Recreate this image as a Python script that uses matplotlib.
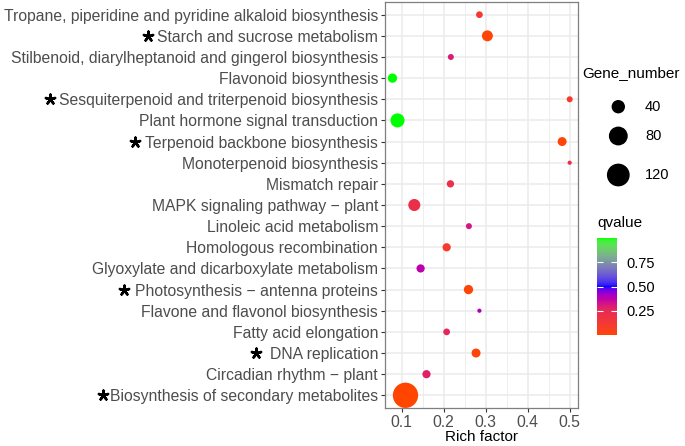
import numpy as np
import matplotlib.pyplot as plt
from matplotlib.colors import ListedColormap, Normalize, to_rgb
from matplotlib.transforms import blended_transform_factory
from matplotlib.cm import ScalarMappable

plt.rcParams['font.family'] = ['Liberation Sans', 'DejaVu Sans']

# KEGG pathways, listed top to bottom as in the chart
pathways = [
    "Tropane, piperidine and pyridine alkaloid biosynthesis",
    "Starch and sucrose metabolism",
    "Stilbenoid, diarylheptanoid and gingerol biosynthesis",
    "Flavonoid biosynthesis",
    "Sesquiterpenoid and triterpenoid biosynthesis",
    "Plant hormone signal transduction",
    "Terpenoid backbone biosynthesis",
    "Monoterpenoid biosynthesis",
    "Mismatch repair",
    "MAPK signaling pathway \u2212 plant",
    "Linoleic acid metabolism",
    "Homologous recombination",
    "Glyoxylate and dicarboxylate metabolism",
    "Photosynthesis \u2212 antenna proteins",
    "Flavone and flavonol biosynthesis",
    "Fatty acid elongation",
    "DNA replication",
    "Circadian rhythm \u2212 plant",
    "Biosynthesis of secondary metabolites",
]
rich_factor = [0.285, 0.304, 0.217, 0.078, 0.500, 0.090, 0.482, 0.500, 0.216, 0.130,
               0.260, 0.207, 0.145, 0.259, 0.285, 0.207, 0.277, 0.159, 0.109]
gene_number = [16, 28, 15, 22, 15, 44, 21, 14, 17, 33,
               15, 19, 19, 22, 14, 16, 21, 19, 151]
qvalue = [0.12, 0.01, 0.30, 1.00, 0.10, 1.00, 0.01, 0.22, 0.20, 0.21,
          0.32, 0.10, 0.38, 0.01, 0.40, 0.26, 0.01, 0.28, 0.00]

# pathways marked with a star, and where the star sits (figure fraction)
starred = ["Starch and sucrose metabolism",
           "Sesquiterpenoid and triterpenoid biosynthesis",
           "Terpenoid backbone biosynthesis",
           "Photosynthesis \u2212 antenna proteins",
           "DNA replication",
           "Biosynthesis of secondary metabolites"]
star_x = [0.216, 0.073, 0.197, 0.181, 0.374, 0.150]

legend_sizes = [40, 80, 120]
cbar_ticks = [0.25, 0.50, 0.75]


def srgb_to_lab(c):
    c = np.asarray(c, dtype=float)
    lin = np.where(c <= 0.04045, c / 12.92, ((c + 0.055) / 1.055) ** 2.4)
    M = np.array([[0.4124, 0.3576, 0.1805],
                  [0.2126, 0.7152, 0.0722],
                  [0.0193, 0.1192, 0.9505]])
    xyz = M @ lin / np.array([0.95047, 1.0, 1.08883])
    d = 6 / 29
    f = np.where(xyz > d ** 3, np.cbrt(xyz), xyz / (3 * d ** 2) + 4 / 29)
    return np.array([116 * f[1] - 16, 500 * (f[0] - f[1]), 200 * (f[1] - f[2])])


def lab_to_srgb(lab):
    L, a, b = lab
    fy = (L + 16) / 116
    fx = fy + a / 500
    fz = fy - b / 200
    d = 6 / 29
    f = np.array([fx, fy, fz])
    xyz = np.where(f > d, f ** 3, 3 * d ** 2 * (f - 4 / 29)) * np.array([0.95047, 1.0, 1.08883])
    Minv = np.array([[3.2406, -1.5372, -0.4986],
                     [-0.9689, 1.8758, 0.0415],
                     [0.0557, -0.2040, 1.0570]])
    lin = np.clip(Minv @ xyz, 0, 1)
    c = np.where(lin <= 0.0031308, 12.92 * lin, 1.055 * lin ** (1 / 2.4) - 0.055)
    return np.clip(c, 0, 1)


# gradient stops (position, colour), interpolated in Lab
stops = [(0.0, "#FF4500"), (0.25, "#E62A55"), (0.375, "#BE00AA"),
         (0.5, "#0000FF"), (1.0, "#00FF00")]
stop_pos = [p for p, _ in stops]
stop_lab = [srgb_to_lab(to_rgb(c)) for _, c in stops]
cols = []
for t in np.linspace(0, 1, 256):
    i = min(np.searchsorted(stop_pos, t, side='right') - 1, len(stops) - 2)
    u = (t - stop_pos[i]) / (stop_pos[i + 1] - stop_pos[i])
    cols.append(lab_to_srgb(stop_lab[i] * (1 - u) + stop_lab[i + 1] * u))
cmap = ListedColormap(cols)
norm = Normalize(vmin=0, vmax=1)

DPI = 100
gmin, gmax = min(gene_number), max(gene_number)


def size_pts2(v):
    # area scale like ggplot: diameter from ~4.2 px to ~25.3 px
    v = np.asarray(v, dtype=float)
    d_px = 4.2 + 21.1 * np.sqrt(np.clip((v - gmin) / (gmax - gmin), 0, 1))
    return (d_px * 72 / DPI) ** 2


fig = plt.figure(figsize=(6.85, 4.46), dpi=DPI)
W, H = 685, 446
ax = fig.add_axes([385 / W, 1 - 408 / H, 193 / W, 406 / H])

n = len(pathways)
ypos = np.arange(n)
ax.set_ylim(n - 1 + 0.6, -0.6)
ax.set_xlim(0.0602, 0.5198)

ax.set_axisbelow(True)
ax.set_xticks([0.1, 0.2, 0.3, 0.4, 0.5])
ax.set_xticks([0.15, 0.25, 0.35, 0.45], minor=True)
ax.set_yticks(ypos)
ax.set_yticklabels(pathways)
ax.grid(which='major', color='#EBEBEB', linewidth=1.1)
ax.grid(which='minor', axis='x', color='#EBEBEB', linewidth=0.6)
ax.tick_params(axis='y', which='major', length=3, width=0.8, color='#333333',
               labelcolor='#4D4D4D', labelsize=11.3, pad=2)
ax.tick_params(axis='x', which='major', length=3, width=0.8, color='#333333',
               labelcolor='#4D4D4D', labelsize=11.3, pad=2)
ax.tick_params(axis='x', which='minor', length=0)
for sp in ax.spines.values():
    sp.set_color('#7F7F7F')
    sp.set_linewidth(0.9)

ax.scatter(rich_factor, ypos, s=size_pts2(gene_number), c=qvalue, cmap=cmap, norm=norm,
           edgecolors='none', zorder=3)
ax.set_xlabel("Rich factor", fontsize=11, color='black', labelpad=0)

# stars in front of selected labels
trans = blended_transform_factory(fig.transFigure, ax.transData)
for name, sx in zip(starred, star_x):
    ax.scatter([sx], [pathways.index(name)], marker=(5, 2, 0), s=48, linewidths=1.8,
               color='black', transform=trans, clip_on=False, zorder=5)

# size legend
lax = fig.add_axes([0, 0, 1, 1])
lax.set_xlim(0, W)
lax.set_ylim(H, 0)
lax.axis('off')
lax.text(582, 73, "Gene_number", fontsize=11, va='center', ha='left')
for v, ly in zip(legend_sizes, [106.7, 136, 175]):
    lax.scatter([618.3], [ly], s=size_pts2(v), color='black', edgecolors='none')
    lax.text(645, ly, str(v), fontsize=10.5, va='center', ha='left')

# qvalue colorbar
lax.text(597.5, 223, "qvalue", fontsize=11, va='center', ha='left')
cax = fig.add_axes([597.3 / W, 1 - 335 / H, 19.4 / W, 97 / H])
cb = fig.colorbar(ScalarMappable(norm=norm, cmap=cmap), cax=cax, ticks=cbar_ticks)
cb.outline.set_visible(False)
cb.ax.set_yticklabels([f"{t:.2f}" for t in cbar_ticks])
cb.ax.tick_params(direction='in', length=4, width=0.8, color='white', left=True, right=True,
                  labelsize=10.5, labelcolor='black', pad=7)

fig.savefig("out.png", dpi=DPI)
